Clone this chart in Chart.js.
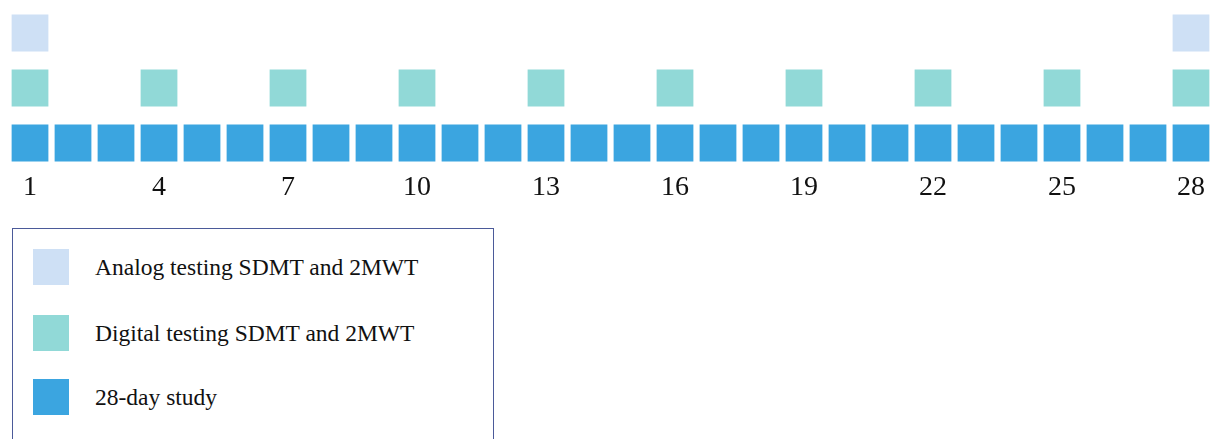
<!DOCTYPE html>
<html>
<head>
<meta charset="utf-8">
<script src="https://cdn.jsdelivr.net/npm/chart.js@4/dist/chart.umd.min.js"></script>
<style>
    body { margin: 0; background: #fff; width: 1210px; height: 439px; overflow: hidden; position: relative; }
    .chart-wrap { position: absolute; left: 0; top: 0; width: 1210px; height: 215px; }
    .legend-box {
        position: absolute; left: 12px; top: 228px; width: 482px; height: 230px;
        border: 1.5px solid #4b5a99; box-sizing: border-box;
        font-family: "Liberation Serif", serif; font-size: 23.5px; color: #111;
    }
    .legend-item { position: absolute; left: 20px; height: 36px; display: flex; align-items: center; }
    .legend-swatch { width: 36px; height: 36px; margin-right: 26px; }
</style>
</head>
<body>
<div class="chart-wrap"><canvas id="timeline"></canvas></div>
<div class="legend-box" id="timeline-legend"></div>

<script>
const rowLabels = ["Analog", "Digital", "Study"];
const seriesNames = ["Analog testing SDMT and 2MWT", "Digital testing SDMT and 2MWT", "28-day study"];
const seriesColors = ["#cee0f5", "#91d9d7", "#3ba5e0"];

const analogDays = [1, 28];
const digitalDays = [1, 4, 7, 10, 13, 16, 19, 22, 25, 28];
const studyDays = [1, 2, 3, 4, 5, 6, 7, 8, 9, 10, 11, 12, 13, 14, 15, 16, 17, 18, 19, 20, 21, 22, 23, 24, 25, 26, 27, 28];
const tickDays = [1, 4, 7, 10, 13, 16, 19, 22, 25, 28];

window.addEventListener("DOMContentLoaded", () => {
    const chart = initTimelineChart();
    buildLegend(chart);
});

function toPoints(days, row) {
    return days.map(d => ({ x: d, y: row }));
}

function initTimelineChart() {
    const ctx = document.getElementById("timeline").getContext("2d");
    const allDays = [analogDays, digitalDays, studyDays];

    return new Chart(ctx, {
        type: "scatter",
        data: {
            datasets: allDays.map((days, i) => ({
                label: seriesNames[i],
                data: toPoints(days, rowLabels[i]),
                pointStyle: "rect",
                pointRadius: 26,
                pointHoverRadius: 26,
                backgroundColor: seriesColors[i],
                borderColor: seriesColors[i],
                borderWidth: 0,
                clip: false
            }))
        },
        options: {
            responsive: true,
            maintainAspectRatio: false,
            animation: false,
            layout: { autoPadding: false, padding: { top: 5.5, left: 0, right: 0, bottom: 0 } },
            plugins: { legend: { display: false }, tooltip: { enabled: false } },
            scales: {
                x: {
                    type: "linear",
                    min: 0.302,
                    max: 28.442,
                    grid: { display: false, drawTicks: false },
                    border: { display: false },
                    afterBuildTicks: axis => { axis.ticks = tickDays.map(v => ({ value: v })); },
                    afterFit: axis => { axis.height = 44.5; },
                    ticks: {
                        autoSkip: false,
                        maxRotation: 0,
                        padding: 0,
                        color: "#111",
                        font: { family: "Liberation Serif", size: 28 }
                    }
                },
                y: {
                    type: "category",
                    labels: rowLabels,
                    offset: true,
                    display: false
                }
            }
        }
    });
}

function buildLegend(chart) {
    const box = document.getElementById("timeline-legend");
    const tops = [20, 86, 150];
    chart.data.datasets.forEach((ds, i) => {
        const item = document.createElement("div");
        item.className = "legend-item";
        item.style.top = tops[i] + "px";
        item.innerHTML = `<div class="legend-swatch" style="background:${ds.backgroundColor}"></div><span>${ds.label}</span>`;
        box.appendChild(item);
    });
}
</script>
</body>
</html>
